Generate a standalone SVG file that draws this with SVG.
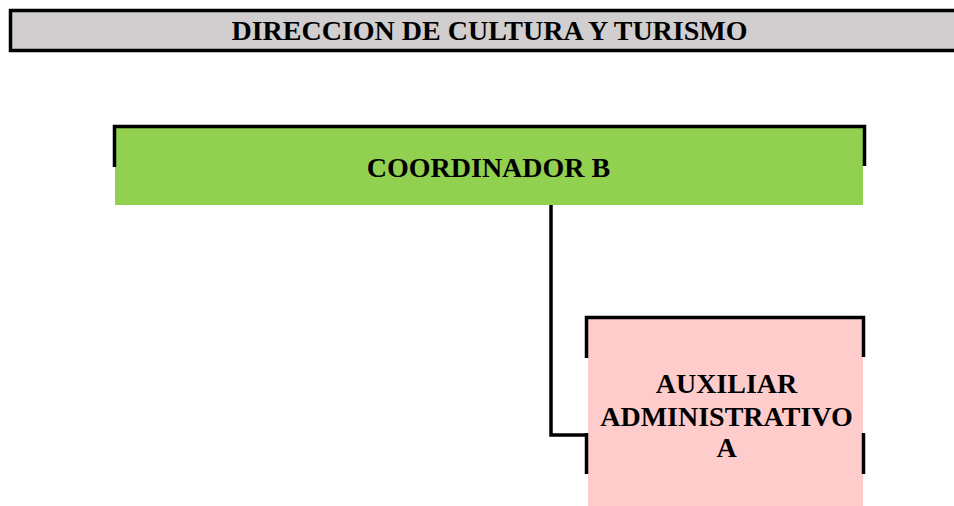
<svg xmlns="http://www.w3.org/2000/svg" width="954" height="506" viewBox="0 0 954 506">
<style>
.t{font-family:"Liberation Serif","Times New Roman",serif;font-weight:bold;font-size:28px;fill:#000;text-anchor:middle}
.frame{fill:none;stroke:#000;stroke-width:3.5}
</style>
<rect width="954" height="506" fill="#fff"/>
<g id="header">
<rect x="10.5" y="10.5" width="960" height="40" fill="#D0CECF" stroke="#000" stroke-width="3.5"/>
<text class="t" x="489.5" y="40">DIRECCION DE CULTURA Y TURISMO</text>
</g>
<g id="connectors">
<polyline points="551,205 551,435 588,435" fill="none" stroke="#000" stroke-width="3.5"/>
</g>
<g id="coordinador">
<rect x="115" y="128" width="748" height="77" fill="#92D050"/>
<polyline class="frame" points="114.5,167 114.5,126.5 864.5,126.5 864.5,166"/>
<text class="t" x="488.5" y="177.3">COORDINADOR B</text>
</g>
<g id="auxiliar">
<rect x="588" y="319" width="275" height="187" fill="#FFCCCC"/>
<polyline class="frame" points="586.5,358 586.5,317.5 863.5,317.5 863.5,357"/>
<line class="frame" x1="586.5" y1="433" x2="586.5" y2="474"/>
<line class="frame" x1="863.5" y1="433" x2="863.5" y2="474"/>
<text class="t" x="726.5" y="393">AUXILIAR</text>
<text class="t" x="726.5" y="425.5">ADMINISTRATIVO</text>
<text class="t" x="726.5" y="457">A</text>
</g>
</svg>
